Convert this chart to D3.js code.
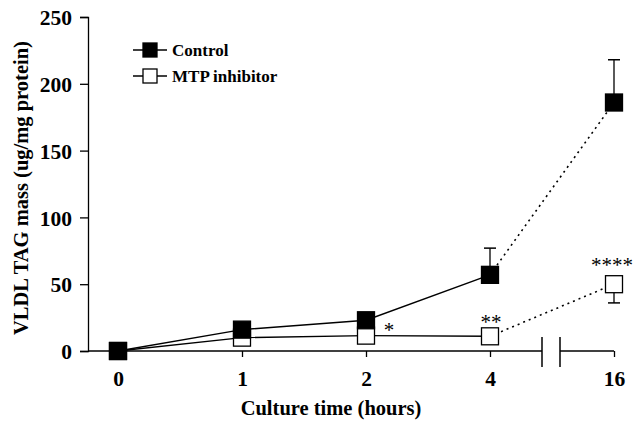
<!DOCTYPE html>
<html>
<head>
<meta charset="utf-8">
<script src="https://cdn.jsdelivr.net/npm/d3@7"></script>
<style>
  body { margin: 0; background: #fff; }
</style>
</head>
<body>
<svg id="chart"></svg>
<script>
// base settings
const width = 635;
const height = 422;
const serif = '"Liberation Serif"';

// data
const times = ["0", "1", "2", "4", "16"];
const controlMean = [0, 16, 23, 57, 186];
const controlErr = [0, 0, 0, 20, 32];
const mtpMean = [0, 10, 11.5, 11, 50];
const mtpErr = [0, 0, 0, 0, 14];
const yTicks = [0, 50, 100, 150, 200, 250];
const stars = [null, null, "*", "**", "****"];

const svg = d3.select('#chart')
    .attr('width', width).attr('height', height);

const x = d3.scalePoint().domain(times).range([118, 614]);
const y = d3.scaleLinear().domain([0, 250]).range([351, 17]);

// y axis
const yAxis = svg.append('g')
    .attr('transform', 'translate(88,0)')
    .call(d3.axisLeft(y).tickValues(yTicks).tickSize(8).tickPadding(8));
yAxis.attr('font-family', serif).attr('font-size', 21.5).attr('font-weight', 'bold');
yAxis.select('.domain').attr('stroke-width', 1.3);
yAxis.selectAll('.tick line').attr('stroke-width', 1.3);
yAxis.selectAll('text')
    .attr('fill', '#000')
    .attr('dy', '0.36em');

// x axis, with a break between 4 and 16
const xAxis = svg.append('g')
    .attr('transform', 'translate(0,351)')
    .call(d3.axisBottom(x).tickSize(6).tickPadding(14));
xAxis.attr('font-family', serif).attr('font-size', 21.5).attr('font-weight', 'bold');
xAxis.select('.domain').remove();
xAxis.selectAll('.tick line').attr('stroke-width', 1.3);
xAxis.selectAll('text').attr('fill', '#000');
const brk1 = 542, brk2 = 560;
xAxis.append('line').attr('x1', 88).attr('x2', brk1).attr('y1', 0).attr('y2', 0)
    .attr('stroke', '#000').attr('stroke-width', 1.3);
xAxis.append('line').attr('x1', brk2).attr('x2', x('16')).attr('y1', 0).attr('y2', 0)
    .attr('stroke', '#000').attr('stroke-width', 1.3);
[brk1, brk2].forEach(bx => {
    xAxis.append('line').attr('x1', bx).attr('x2', bx).attr('y1', -14).attr('y2', 16)
        .attr('stroke', '#000').attr('stroke-width', 1.5);
});

// axis titles
svg.append('text')
    .attr('x', 331).attr('y', 415)
    .attr('text-anchor', 'middle')
    .attr('font-family', serif).attr('font-weight', 'bold')
    .attr('font-size', 20.5)
    .text('Culture time (hours)');
svg.append('text')
    .attr('transform', 'translate(28,188) rotate(-90)')
    .attr('text-anchor', 'middle')
    .attr('font-family', serif).attr('font-weight', 'bold')
    .attr('font-size', 20.5)
    .text('VLDL TAG mass (ug/mg protein)');

// lines: solid up to 4 h, dotted from 4 h to 16 h
function drawSeries(means, errs, fill, errUp) {
    const pts = times.map((t, i) => [x(t), y(means[i])]);
    const line = d3.line();
    svg.append('path')
        .attr('d', line(pts.slice(0, 4)))
        .attr('fill', 'none').attr('stroke', '#000').attr('stroke-width', 1.4);
    svg.append('path')
        .attr('d', line(pts.slice(3)))
        .attr('fill', 'none').attr('stroke', '#000').attr('stroke-width', 1.6)
        .attr('stroke-dasharray', '2,4');

    // error bars (one sided)
    times.forEach((t, i) => {
        if (!errs[i]) return;
        const end = errUp ? means[i] + errs[i] : means[i] - errs[i];
        svg.append('line')
            .attr('x1', x(t)).attr('x2', x(t))
            .attr('y1', y(means[i])).attr('y2', y(end))
            .attr('stroke', '#000').attr('stroke-width', 1.3);
        svg.append('line')
            .attr('x1', x(t) - 6).attr('x2', x(t) + 6)
            .attr('y1', y(end)).attr('y2', y(end))
            .attr('stroke', '#000').attr('stroke-width', 1.5);
    });

    const s = 17;
    svg.selectAll(null)
        .data(pts)
        .enter().append('rect')
        .attr('x', d => d[0] - s / 2)
        .attr('y', d => d[1] - s / 2)
        .attr('width', s).attr('height', s)
        .attr('fill', fill)
        .attr('stroke', '#000').attr('stroke-width', 1.3);
}

drawSeries(mtpMean, mtpErr, '#fff', false);
drawSeries(controlMean, controlErr, '#000', true);
// point at 0 h is shared; control drawn on top

// significance stars
const starPos = [null, null, [389, 337, 'middle'], [491, 329, 'middle'], [633, 272, 'end']];
times.forEach((t, i) => {
    if (!stars[i]) return;
    svg.append('text')
        .attr('x', starPos[i][0]).attr('y', starPos[i][1])
        .attr('text-anchor', starPos[i][2])
        .attr('font-family', serif)
        .attr('font-size', 21)
        .text(stars[i]);
});

// legend
const legend = [
    { name: 'Control', fill: '#000', y: 50 },
    { name: 'MTP inhibitor', fill: '#fff', y: 76 }
];
legend.forEach(d => {
    svg.append('line').attr('x1', 133).attr('x2', 167).attr('y1', d.y).attr('y2', d.y)
        .attr('stroke', '#000').attr('stroke-width', 1.3);
    svg.append('rect').attr('x', 143).attr('y', d.y - 7).attr('width', 14).attr('height', 14)
        .attr('fill', d.fill).attr('stroke', '#000').attr('stroke-width', 1.3);
    svg.append('text').attr('x', 172).attr('y', d.y).attr('dy', '0.35em')
        .attr('font-family', serif).attr('font-weight', 'bold')
        .attr('font-size', 17)
        .text(d.name);
});
</script>
</body>
</html>
